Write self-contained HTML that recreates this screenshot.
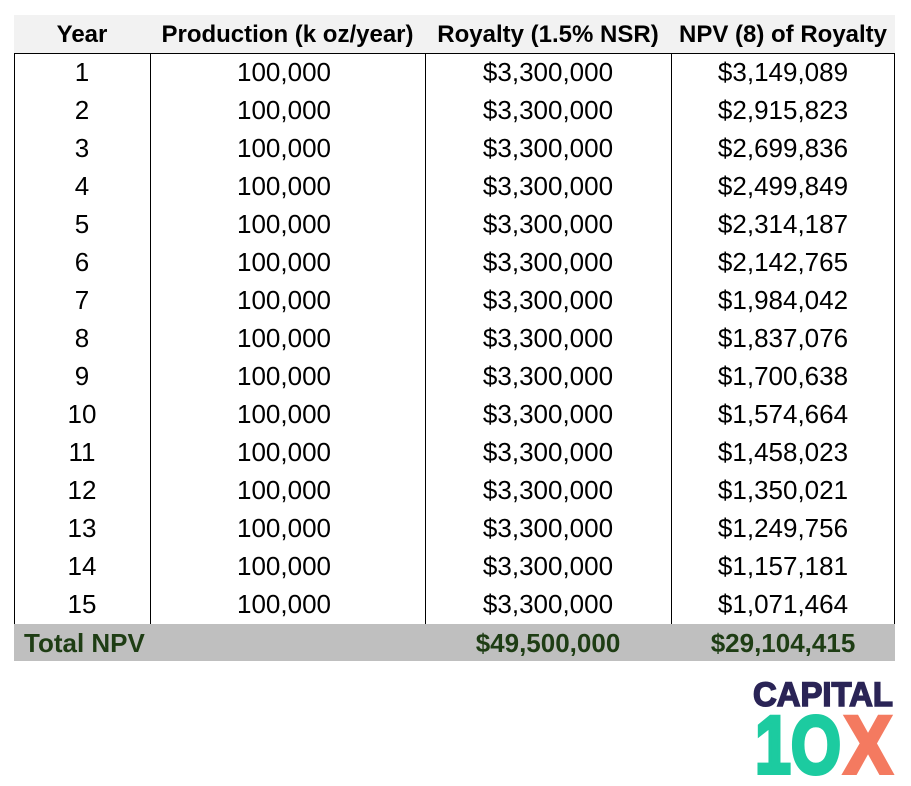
<!DOCTYPE html>
<html><head><meta charset="utf-8"><style>
body{margin:0;background:#fff;width:911px;height:786px;overflow:hidden;position:relative;font-family:"Liberation Sans",sans-serif}
.hdr{position:absolute;left:14px;top:15px;width:881px;height:38px;background:#f2f2f2}
.c{position:absolute;text-align:center;white-space:nowrap}
.h{font-weight:bold;font-size:24px;top:21px;color:#000}
.r{font-size:26px;color:#000}
.tot{position:absolute;left:14px;top:624px;width:881px;height:37px;background:#bfbfbf}
.g{color:#1e3d14;font-weight:bold;font-size:26px}
</style></head><body>
<div class="hdr"></div>
<div style="position:absolute;left:14px;top:53px;width:879px;height:570px;border:1px solid #000;border-bottom:2px solid #000"></div>
<div style="position:absolute;left:150px;top:53px;width:1px;height:571px;background:#000"></div>
<div style="position:absolute;left:425px;top:53px;width:1px;height:571px;background:#000"></div>
<div style="position:absolute;left:671px;top:53px;width:1px;height:571px;background:#000"></div>
<div class="c h" style="left:14px;width:136px">Year</div>
<div class="c h" style="left:150px;width:275px">Production (k oz/year)</div>
<div class="c h" style="left:425px;width:246px">Royalty (1.5% NSR)</div>
<div class="c h" style="left:671px;width:224px">NPV (8) of Royalty</div>
<div id="rows"></div>
<div class="tot"></div>
<div class="c g" style="left:24px;top:628px">Total NPV</div>
<div class="c g" style="left:425px;width:246px;top:628px">$49,500,000</div>
<div class="c g" style="left:671px;width:224px;top:628px">$29,104,415</div>
<svg style="position:absolute;left:0;top:0" width="911" height="786">
<text x="753" y="706" textLength="140" lengthAdjust="spacingAndGlyphs" font-family="Liberation Sans" font-weight="bold" font-size="34" fill="#2a2456" stroke="#2a2456" stroke-width="1.5">CAPITAL</text>
<text x="755" y="773" textLength="86" lengthAdjust="spacingAndGlyphs" font-family="Liberation Sans" font-weight="bold" font-size="82" fill="#1ccba0" stroke="#1ccba0" stroke-width="4">1O</text>
<text x="844" y="773" textLength="48" lengthAdjust="spacingAndGlyphs" font-family="Liberation Sans" font-weight="bold" font-size="82" fill="#f47a60" stroke="#f47a60" stroke-width="4">X</text>
</svg>
<script>
var n=["$3,149,089","$2,915,823","$2,699,836","$2,499,849","$2,314,187","$2,142,765","$1,984,042","$1,837,076","$1,700,638","$1,574,664","$1,458,023","$1,350,021","$1,249,756","$1,157,181","$1,071,464"];
var h="";for(var i=0;i<15;i++){var t=57+i*38;
h+='<div class="c r" style="left:14px;width:136px;top:'+t+'px">'+(i+1)+'</div>'+
'<div class="c r" style="left:150px;width:268px;top:'+t+'px">100,000</div>'+
'<div class="c r" style="left:425px;width:246px;top:'+t+'px">$3,300,000</div>'+
'<div class="c r" style="left:671px;width:224px;top:'+t+'px">'+n[i]+'</div>';}
document.getElementById("rows").innerHTML=h;
</script>
</body></html>
